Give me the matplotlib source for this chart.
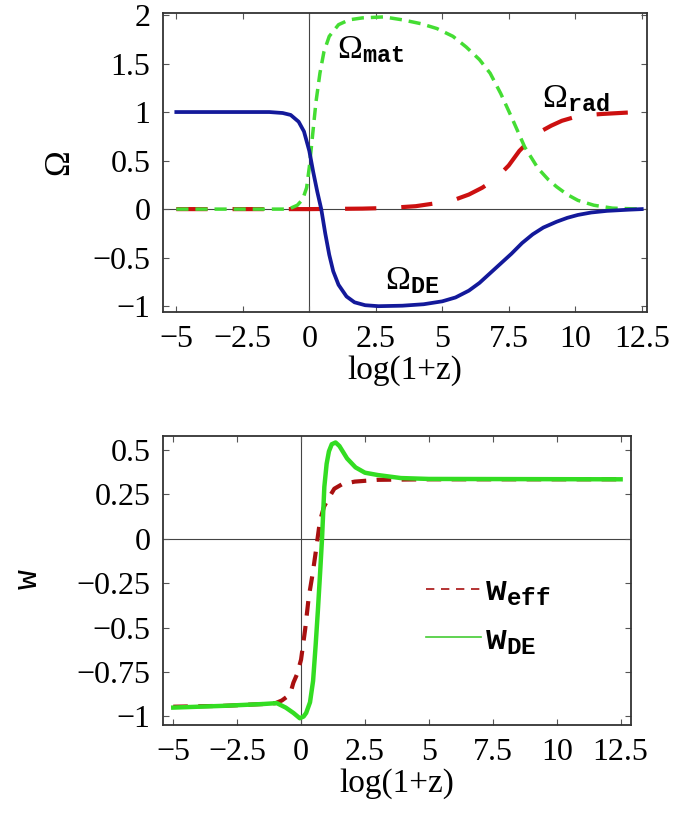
import matplotlib
matplotlib.use("Agg")
import matplotlib.pyplot as plt
from matplotlib.lines import Line2D

plt.rcParams['font.family'] = ['Liberation Serif', 'DejaVu Serif']
plt.rcParams['mathtext.fontset'] = 'custom'
plt.rcParams['mathtext.rm'] = 'Liberation Serif'
plt.rcParams['mathtext.it'] = 'Liberation Serif:italic'
plt.rcParams['mathtext.tt'] = 'Liberation Mono:bold'

# ---- top panel: density parameters vs log(1+z) ----
x_de = [-5, -3, -1.5, -1.0, -0.7, -0.4, -0.2, 0.0, 0.15, 0.3, 0.45, 0.6, 0.75, 0.9,
        1.1, 1.4, 1.7, 2.1, 2.6, 3.5, 4.3, 5.0, 5.5, 6.0, 6.4, 6.8, 7.2, 7.6, 8.0,
        8.4, 8.8, 9.3, 9.7, 10.1, 10.6, 11.2, 12.0, 12.5]
om_de = [1.0, 1.0, 1.0, 0.99, 0.97, 0.9, 0.8, 0.6, 0.38, 0.18, 0.0, -0.25, -0.47, -0.64,
         -0.78, -0.9, -0.96, -0.99, -1.0, -0.995, -0.98, -0.95, -0.91, -0.84, -0.76, -0.66,
         -0.56, -0.46, -0.35, -0.26, -0.19, -0.13, -0.09, -0.06, -0.035, -0.018, -0.006, 0.0]

x_mat = [-5, -2, -1, -0.7, -0.45, -0.25, -0.1, 0.0, 0.12, 0.25, 0.4, 0.55, 0.75, 1.1,
         1.5, 2.0, 2.8, 3.5, 4.2, 4.8, 5.4, 5.9, 6.4, 6.8, 7.2, 7.6, 8.1, 8.6, 9.0, 9.3,
         9.7, 10.1, 10.7, 11.4, 12.5]
om_mat = [0, 0, 0.0, 0.01, 0.04, 0.1, 0.22, 0.43, 0.75, 1.1, 1.4, 1.62, 1.78, 1.9,
          1.95, 1.97, 1.98, 1.95, 1.91, 1.86, 1.78, 1.67, 1.54, 1.4, 1.19, 0.95, 0.64,
          0.42, 0.3, 0.23, 0.15, 0.09, 0.04, 0.01, 0.0]

x_rad = [-5, 0, 2, 3, 4, 5, 5.5, 6.0, 6.5, 7.0, 7.5, 7.9, 8.3, 8.7, 9.1, 9.5, 10.0,
         10.5, 11.0, 12.0, 12.5]
om_rad = [0, 0, 0.005, 0.012, 0.03, 0.07, 0.1, 0.15, 0.22, 0.31, 0.45, 0.6, 0.71, 0.8,
          0.86, 0.91, 0.95, 0.97, 0.98, 0.995, 1.0]

# ---- bottom panel: equation of state ----
x_eff = [-5, -3, -1.5, -1.0, -0.75, -0.56, -0.4, -0.3, -0.15, 0.0, 0.16, 0.3, 0.45,
         0.57, 0.74, 0.9, 1.09, 1.3, 1.6, 2.1, 3.0, 5.0, 12.5]
w_eff = [-0.945, -0.94, -0.93, -0.925, -0.91, -0.89, -0.86, -0.81, -0.76, -0.68, -0.51,
         -0.33, -0.2, -0.08, 0.1, 0.18, 0.23, 0.28, 0.305, 0.32, 0.33, 0.333, 0.333]

x_wde = [-5, -3, -1.5, -0.95, -0.6, -0.3, -0.05, 0.1, 0.2, 0.35, 0.47, 0.57, 0.66, 0.75,
         0.82, 0.91, 1.0, 1.09, 1.2, 1.35, 1.5, 1.8, 2.13, 2.5, 3.0, 3.9, 5.0, 12.5]
w_de = [-0.95, -0.94, -0.93, -0.925, -0.95, -0.98, -1.01, -1.0, -0.98, -0.92, -0.8, -0.6,
        -0.4, -0.18, 0.0, 0.29, 0.42, 0.49, 0.53, 0.54, 0.52, 0.45, 0.40, 0.37, 0.357,
        0.34, 0.335, 0.333]

xticks = [-5, -2.5, 0, 2.5, 5, 7.5, 10, 12.5]
xtick_labels = ['\u22125', '\u22122.5', '0', '2.5', '5', '7.5', '10', '12.5']
yticks_top = [-1, -0.5, 0, 0.5, 1, 1.5, 2]
ytick_labels_top = ['\u22121', '\u22120.5', '0', '0.5', '1', '1.5', '2']
yticks_bot = [-1, -0.75, -0.5, -0.25, 0, 0.25, 0.5]
ytick_labels_bot = ['\u22121', '\u22120.75', '\u22120.5', '\u22120.25', '0', '0.25', '0.5']

fig = plt.figure(figsize=(6.89, 8.14), dpi=100)
ax1 = fig.add_axes([0.2366, 0.6167, 0.7025, 0.3673])
ax2 = fig.add_axes([0.2366, 0.1093, 0.679, 0.355])


def style(ax):
    for s in ax.spines.values():
        s.set_color('#333333')
        s.set_linewidth(1.3)
    ax.axhline(0, color='#444444', lw=0.8, zorder=1)
    ax.axvline(0, color='#444444', lw=0.8, zorder=1)
    ax.tick_params(direction='in', length=4, width=0.8, color='#555555',
                   top=True, right=True, labelsize=23, pad=9)
    ax.set_xticks(xticks)
    ax.set_xticklabels(xtick_labels)
    ax.set_xlabel('log(1+z)', fontsize=24, labelpad=1)


# top panel
style(ax1)
ax1.plot(x_rad, om_rad, color='#cc1010', lw=3, dashes=(7.5, 6), zorder=3)
ax1.plot(x_mat, om_mat, color='#44dd33', lw=2.5, dashes=(3.5, 2), zorder=4)
ax1.plot(x_de, om_de, color='#13199a', lw=2.7, zorder=5)
ax1.set_xlim(-5.5, 12.7)
ax1.set_ylim(-1.06, 2.02)
ax1.set_yticks(yticks_top)
ax1.set_yticklabels(ytick_labels_top)
ax1.set_ylabel('\u03a9', fontsize=25)
ax1.yaxis.set_label_coords(-0.18, 0.5)
ax1.text(1.05, 1.55, r'$\mathrm{\Omega}_{\mathtt{mat}}$', fontsize=24, va='baseline')
ax1.text(8.76, 1.05, r'$\mathrm{\Omega}_{\mathtt{rad}}$', fontsize=24, va='baseline')
ax1.text(2.83, -0.82, r'$\mathrm{\Omega}_{\mathtt{DE}}$', fontsize=24, va='baseline')

# bottom panel
style(ax2)
ax2.plot(x_eff, w_eff, color='#a81010', lw=3, dashes=(3.5, 2.5), zorder=3)
ax2.plot(x_wde, w_de, color='#33dd22', lw=3.2, zorder=4)
ax2.set_xlim(-5.4, 12.9)
ax2.set_ylim(-1.048, 0.576)
ax2.set_yticks(yticks_bot)
ax2.set_yticklabels(ytick_labels_bot)
ax2.set_ylabel('w', fontsize=24, family='Liberation Mono')
ax2.yaxis.set_label_coords(-0.255, 0.505)

handles = [Line2D([], [], color='#a81010', lw=1.2, dashes=(5, 4)),
           Line2D([], [], color='#44cc33', lw=1.2)]
labels = [r'$\mathtt{w}_{\mathtt{eff}}$', r'$\mathtt{w}_{\mathtt{DE}}$']
ax2.legend(handles, labels, loc='center left', bbox_to_anchor=(0.495, 0.375),
           frameon=False, fontsize=25, handlelength=1.6, handletextpad=0.1,
           labelspacing=0.45)

fig.savefig('out.png', dpi=100)
